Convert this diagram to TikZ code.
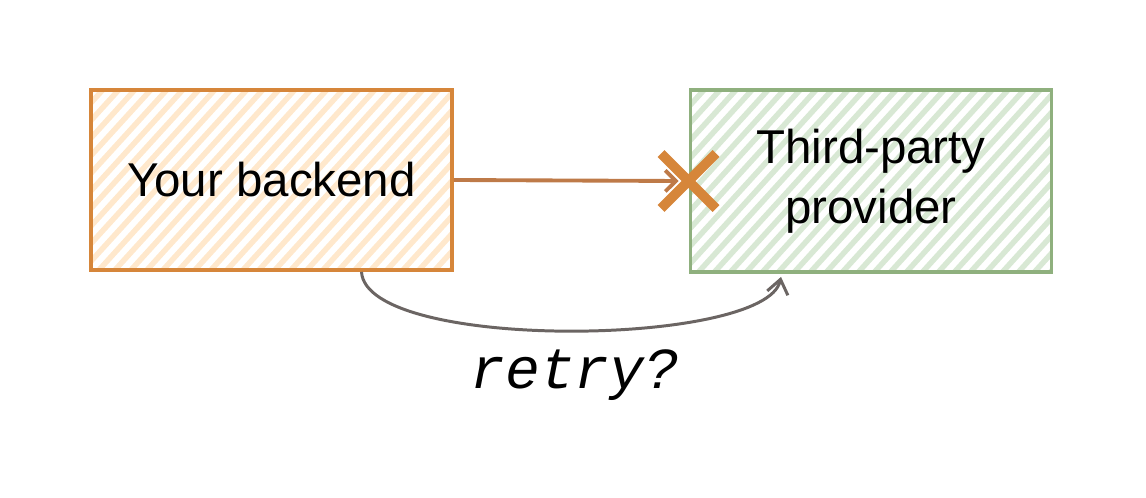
\documentclass[tikz,border=0pt]{standalone}
\usepackage{fontspec}
\setmainfont{Liberation Sans}
\setmonofont{Liberation Mono}
\usetikzlibrary{arrows.meta}

\definecolor{orangeline}{RGB}{214,134,58}
\definecolor{orangehatch}{RGB}{255,232,204}
\definecolor{greenline}{RGB}{143,176,126}
\definecolor{greenhatch}{RGB}{216,232,212}
\definecolor{linkline}{RGB}{190,122,72}
\definecolor{retryline}{RGB}{107,101,99}

\begin{document}
\begin{tikzpicture}[
		hatched/.style={path picture={
			\foreach \i in {-4,-3.68,...,7.4}
				\draw[#1, line width=0.11cm] (path picture bounding box.south west) ++(\i,0) -- ++(4,4.4);
		}},
		svcbox/.style={line width=2.2pt, minimum width=7.22cm, minimum height=3.6cm,
			align=center, font=\fontsize{27}{34}\selectfont}
	]
		\useasboundingbox (0,0) rectangle (22.92,9.96);

		\draw (5.43,6.36) node[svcbox, draw=orangeline, hatched=orangehatch] (backend) {Your backend};
		\draw (17.42,6.34) node[svcbox, draw=greenline, hatched=greenhatch, minimum height=3.64cm] (provider) {Third-party\\provider};

		\coordinate (fail) at (provider.west);
		\coordinate (from) at ([xshift=1.8cm]backend.south);
		\coordinate (to) at ([xshift=-1.8cm]provider.south);

		\draw [linkline, line width=2.2pt, -{Straight Barb[length=6pt]}] (backend.east) -- ([xshift=-0.2cm]fail);
		\draw [orangeline, line width=5.5pt] (fail) ++(-0.55,0.55) -- ++(1.1,-1.1) (fail) ++(-0.55,-0.55) -- ++(1.1,1.1);

		\draw [retryline, line width=1.7pt, -{Straight Barb[length=8pt,width=12pt]}] (from) .. controls +(0.1,-1.6) and +(-0.3,-1.4) .. ([yshift=-0.06cm]to);
		\draw (11.5,2.45) node [font=\ttfamily\itshape\fontsize{33}{40}\selectfont] (retry) {retry?};
	\end{tikzpicture}
\end{document}
